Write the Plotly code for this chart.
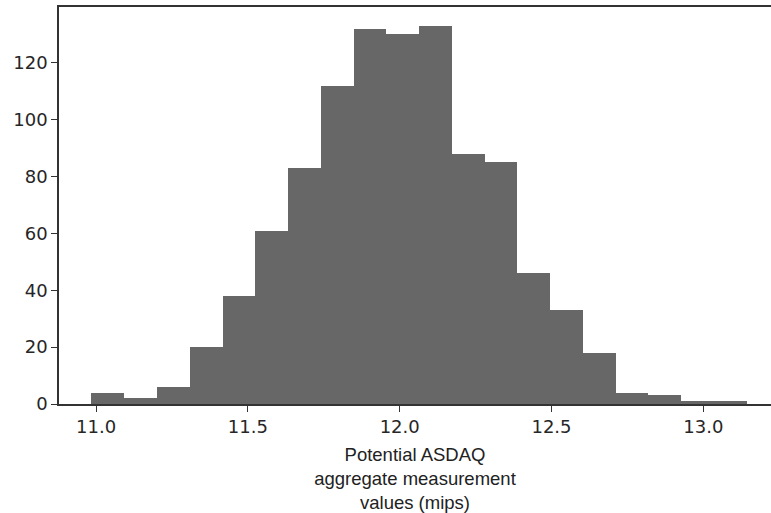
import plotly.graph_objects as go

bin_edges = [10.985, 11.093, 11.201, 11.309, 11.417, 11.525, 11.632, 11.740,
             11.848, 11.956, 12.064, 12.172, 12.280, 12.388, 12.496, 12.604,
             12.711, 12.819, 12.927, 13.035, 13.143]
counts = [4, 2, 6, 20, 38, 61, 83, 112, 132, 130, 133, 88, 85, 46, 33, 18, 4, 3, 1, 1]
x_ticks = [11.0, 11.5, 12.0, 12.5, 13.0]
y_ticks = [0, 20, 40, 60, 80, 100, 120]
x_title = "Potential ASDAQ<br>aggregate measurement<br>values (mips)"

centers = [(bin_edges[i] + bin_edges[i + 1]) / 2 for i in range(len(counts))]
widths = [bin_edges[i + 1] - bin_edges[i] for i in range(len(counts))]

fig = go.Figure(go.Bar(x=centers, y=counts, width=widths,
                       marker=dict(color="#676768", line=dict(width=0))))

axis_color = "#333333"
tick_font = dict(family="DejaVu Sans", size=18, color="#262626")

fig.update_layout(
    width=771, height=513,
    margin=dict(l=59, r=0, t=7, b=109),
    plot_bgcolor="white", paper_bgcolor="white",
    showlegend=False, bargap=0,
)
fig.update_xaxes(
    range=[10.878, 13.223], tickvals=x_ticks, ticktext=[f"{v:.1f}" for v in x_ticks],
    showgrid=False, zeroline=False, showline=True, linecolor=axis_color, linewidth=1.5,
    mirror=True, ticks="outside", ticklen=6, tickwidth=1.3, tickcolor=axis_color,
    tickfont=tick_font, automargin=False,
    title=dict(text=x_title, standoff=12,
               font=dict(family="Liberation Sans, Arial", size=18.5, color="#222222")),
)
fig.update_yaxes(
    range=[0, 139.65], tickvals=y_ticks,
    showgrid=False, zeroline=False, showline=True, linecolor=axis_color, linewidth=1.5,
    ticks="outside", ticklen=6, tickwidth=1.3, tickcolor=axis_color,
    tickfont=tick_font, automargin=False,
)

fig.write_html("out.html", config={"displayModeBar": False},
               post_script="document.body.style.margin='0';document.body.style.overflow='hidden';")
